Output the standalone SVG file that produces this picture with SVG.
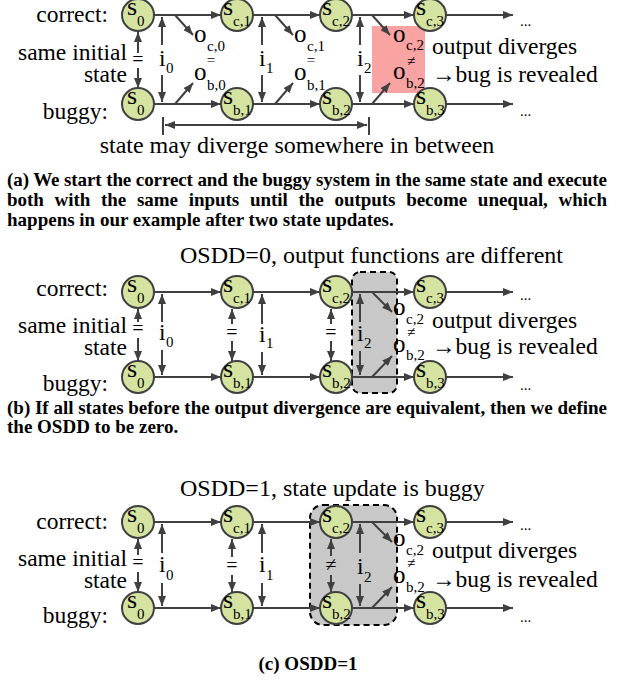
<svg xmlns="http://www.w3.org/2000/svg" width="630" height="681" viewBox="0 0 630 681">
  <defs>
    <marker id="ah" viewBox="0 0 10 8" refX="10" refY="4" markerWidth="10" markerHeight="8" markerUnits="userSpaceOnUse" orient="auto-start-reverse">
      <path d="M0,0 L10,4 L0,8 z" fill="#404040"/>
    </marker>
  </defs>
  <style>
    text { font-family: "Liberation Serif", "Times New Roman", serif; fill: #000; }
    .ln { stroke: #404040; stroke-width: 2; fill: none; }
    .ar { marker-end: url(#ah); }
    .node circle { fill: #d5e3a1; stroke: #404040; stroke-width: 2; }
    .lbl { font-size: 23.5px; }
    .ttl { font-size: 24px; }
    .s { font-size: 26px; }
    .sub { font-size: 15px; }
    .o { font-size: 25px; }
    .rel { font-size: 15px; text-anchor: middle; }
    .eq { font-size: 20px; text-anchor: middle; }
    .dots { font-size: 15px; }
    .end { text-anchor: end; }
    .cap { font-size: 19px; font-weight: bold; }
    .box { fill: #c8c8c8; stroke: #000; stroke-width: 2; stroke-dasharray: 6 4; }
  </style>

  <!-- ===== Panel (a) ===== -->
  <rect id="a-diverge-mark" x="372" y="26" width="53" height="67" fill="#f9a3a3"/>

  <g id="a-connectors">
    <!-- state transitions -->
    <line class="ln ar" x1="154" y1="15" x2="221" y2="15"/>
    <line class="ln ar" x1="253" y1="15" x2="320" y2="15"/>
    <line class="ln ar" x1="352" y1="15" x2="414" y2="15"/>
    <line class="ln ar" x1="446" y1="15" x2="513" y2="15"/>
    <line class="ln ar" x1="154" y1="104" x2="221" y2="104"/>
    <line class="ln ar" x1="253" y1="104" x2="320" y2="104"/>
    <line class="ln ar" x1="352" y1="104" x2="414" y2="104"/>
    <line class="ln ar" x1="446" y1="104" x2="513" y2="104"/>
    <!-- same initial state -->
    <line class="ln ar" x1="138" y1="53" x2="138" y2="32"/>
    <line class="ln ar" x1="138" y1="68" x2="138" y2="88"/>
    <!-- inputs -->
    <line class="ln ar" x1="162" y1="45" x2="162" y2="17"/>
    <line class="ln ar" x1="162" y1="75" x2="162" y2="102"/>
    <line class="ln ar" x1="262" y1="45" x2="262" y2="17"/>
    <line class="ln ar" x1="262" y1="75" x2="262" y2="102"/>
    <line class="ln ar" x1="360" y1="45" x2="360" y2="17"/>
    <line class="ln ar" x1="360" y1="75" x2="360" y2="102"/>
    <!-- outputs -->
    <line class="ln ar" x1="175" y1="15" x2="193" y2="35"/>
    <line class="ln ar" x1="175" y1="104" x2="193" y2="83"/>
    <line class="ln ar" x1="275" y1="15" x2="293" y2="35"/>
    <line class="ln ar" x1="275" y1="104" x2="293" y2="83"/>
    <line class="ln ar" x1="372" y1="15" x2="390" y2="35"/>
    <line class="ln ar" x1="372" y1="104" x2="390" y2="83"/>
    <!-- divergence span -->
    <line class="ln" x1="165" y1="125" x2="367" y2="125" marker-start="url(#ah)" marker-end="url(#ah)"/>
    <line class="ln" x1="163" y1="117" x2="163" y2="135"/>
    <line class="ln" x1="369" y1="117" x2="369" y2="135"/>
  </g>

  <g id="a-nodes">
    <g id="a-s0-correct" class="node" transform="translate(138,15)"><circle r="16"/><text class="s" x="-11" y="0">s</text><text class="sub" x="-1" y="11">0</text></g>
    <g id="a-sc1" class="node" transform="translate(237,15)"><circle r="16"/><text class="s" x="-14" y="0">s</text><text class="sub" x="-4" y="11">c,1</text></g>
    <g id="a-sc2" class="node" transform="translate(336,15)"><circle r="16"/><text class="s" x="-14" y="0">s</text><text class="sub" x="-4" y="11">c,2</text></g>
    <g id="a-sc3" class="node" transform="translate(430,15)"><circle r="16"/><text class="s" x="-14" y="0">s</text><text class="sub" x="-4" y="11">c,3</text></g>
    <g id="a-s0-buggy" class="node" transform="translate(138,104)"><circle r="16"/><text class="s" x="-11" y="0">s</text><text class="sub" x="-1" y="11">0</text></g>
    <g id="a-sb1" class="node" transform="translate(237,104)"><circle r="16"/><text class="s" x="-14" y="0">s</text><text class="sub" x="-4" y="11">b,1</text></g>
    <g id="a-sb2" class="node" transform="translate(336,104)"><circle r="16"/><text class="s" x="-14" y="0">s</text><text class="sub" x="-4" y="11">b,2</text></g>
    <g id="a-sb3" class="node" transform="translate(430,104)"><circle r="16"/><text class="s" x="-14" y="0">s</text><text class="sub" x="-4" y="11">b,3</text></g>
  </g>

  <g id="a-labels">
    <text class="lbl end" x="108" y="22">correct:</text>
    <text class="lbl end" x="127" y="60">same initial</text>
    <text class="lbl end" x="127" y="82">state</text>
    <text class="lbl end" x="108" y="119">buggy:</text>
    <text class="eq" x="138" y="66">=</text>
    <text class="lbl" x="159" y="66">i</text><text class="sub" x="166" y="73">0</text>
    <text class="lbl" x="259" y="66">i</text><text class="sub" x="266" y="73">1</text>
    <text class="lbl" x="357" y="66">i</text><text class="sub" x="364" y="73">2</text>
    <text class="o" x="194" y="42">o</text><text class="sub" x="207" y="51">c,0</text>
    <text class="rel" x="211" y="65">=</text>
    <text class="o" x="194" y="80">o</text><text class="sub" x="207" y="90">b,0</text>
    <text class="o" x="294" y="42">o</text><text class="sub" x="307" y="51">c,1</text>
    <text class="rel" x="311" y="65">=</text>
    <text class="o" x="294" y="80">o</text><text class="sub" x="307" y="90">b,1</text>
    <text class="o" x="393" y="42">o</text><text class="sub" x="406" y="50">c,2</text>
    <text class="rel" x="411" y="66">≠</text>
    <text class="o" x="393" y="79">o</text><text class="sub" x="406" y="88">b,2</text>
    <text class="lbl" x="432" y="54">output diverges</text>
    <text class="lbl" x="432" y="82">→bug is revealed</text>
    <text class="dots" x="520" y="26">...</text>
    <text class="dots" x="520" y="116">...</text>
    <text class="ttl" x="297" y="153" text-anchor="middle">state may diverge somewhere in between</text>
  </g>

  <g id="a-caption" class="cap">
    <text x="7" y="186" textLength="600" lengthAdjust="spacing">(a) We start the correct and the buggy system in the same state and execute</text>
    <text x="7" y="206" textLength="600" lengthAdjust="spacing" word-spacing="6">both with the same inputs until the outputs become unequal, which</text>
    <text x="7" y="226">happens in our example after two state updates.</text>
  </g>

  <!-- ===== Panel (b) ===== -->
  <text class="ttl" x="180" y="263">OSDD=0, output functions are different</text>
  <rect id="b-focus" class="box" x="352" y="272" width="45" height="121" rx="8"/>

  <g id="b-connectors">
    <line class="ln ar" x1="154" y1="292" x2="221" y2="292"/>
    <line class="ln ar" x1="253" y1="292" x2="320" y2="292"/>
    <line class="ln ar" x1="352" y1="292" x2="414" y2="292"/>
    <line class="ln ar" x1="446" y1="292" x2="513" y2="292"/>
    <line class="ln ar" x1="154" y1="377" x2="221" y2="377"/>
    <line class="ln ar" x1="253" y1="377" x2="320" y2="377"/>
    <line class="ln ar" x1="352" y1="377" x2="414" y2="377"/>
    <line class="ln ar" x1="446" y1="377" x2="513" y2="377"/>
    <line class="ln ar" x1="138" y1="322" x2="138" y2="309"/>
    <line class="ln ar" x1="138" y1="338" x2="138" y2="361"/>
    <line class="ln ar" x1="162" y1="322" x2="162" y2="294"/>
    <line class="ln ar" x1="162" y1="350" x2="162" y2="375"/>
    <line class="ln ar" x1="232" y1="324" x2="232" y2="309"/>
    <line class="ln ar" x1="232" y1="341" x2="232" y2="361"/>
    <line class="ln ar" x1="262" y1="324" x2="262" y2="294"/>
    <line class="ln ar" x1="262" y1="352" x2="262" y2="375"/>
    <line class="ln ar" x1="331" y1="324" x2="331" y2="309"/>
    <line class="ln ar" x1="331" y1="341" x2="331" y2="361"/>
    <line class="ln ar" x1="360" y1="322" x2="360" y2="294"/>
    <line class="ln ar" x1="360" y1="351" x2="360" y2="375"/>
    <line class="ln ar" x1="372" y1="292" x2="392" y2="312"/>
    <line class="ln ar" x1="372" y1="377" x2="392" y2="356"/>
  </g>

  <g id="b-nodes">
    <g id="b-s0-correct" class="node" transform="translate(138,292)"><circle r="16"/><text class="s" x="-11" y="0">s</text><text class="sub" x="-1" y="11">0</text></g>
    <g id="b-sc1" class="node" transform="translate(237,292)"><circle r="16"/><text class="s" x="-14" y="0">s</text><text class="sub" x="-4" y="11">c,1</text></g>
    <g id="b-sc2" class="node" transform="translate(336,292)"><circle r="16"/><text class="s" x="-14" y="0">s</text><text class="sub" x="-4" y="11">c,2</text></g>
    <g id="b-sc3" class="node" transform="translate(430,292)"><circle r="16"/><text class="s" x="-14" y="0">s</text><text class="sub" x="-4" y="11">c,3</text></g>
    <g id="b-s0-buggy" class="node" transform="translate(138,377)"><circle r="16"/><text class="s" x="-11" y="0">s</text><text class="sub" x="-1" y="11">0</text></g>
    <g id="b-sb1" class="node" transform="translate(237,377)"><circle r="16"/><text class="s" x="-14" y="0">s</text><text class="sub" x="-4" y="11">b,1</text></g>
    <g id="b-sb2" class="node" transform="translate(336,377)"><circle r="16"/><text class="s" x="-14" y="0">s</text><text class="sub" x="-4" y="11">b,2</text></g>
    <g id="b-sb3" class="node" transform="translate(430,377)"><circle r="16"/><text class="s" x="-14" y="0">s</text><text class="sub" x="-4" y="11">b,3</text></g>
  </g>

  <g id="b-labels">
    <text class="lbl end" x="108" y="296">correct:</text>
    <text class="lbl end" x="127" y="333">same initial</text>
    <text class="lbl end" x="127" y="355">state</text>
    <text class="lbl end" x="108" y="391">buggy:</text>
    <text class="eq" x="138" y="335">=</text>
    <text class="eq" x="232" y="339">=</text>
    <text class="eq" x="331" y="339">=</text>
    <text class="lbl" x="159" y="340">i</text><text class="sub" x="166" y="347">0</text>
    <text class="lbl" x="259" y="342">i</text><text class="sub" x="266" y="348">1</text>
    <text class="lbl" x="357" y="341">i</text><text class="sub" x="364" y="348">2</text>
    <text class="o" x="393" y="315">o</text><text class="sub" x="406" y="324">c,2</text>
    <text class="rel" x="411" y="337">≠</text>
    <text class="o" x="393" y="352">o</text><text class="sub" x="406" y="360">b,2</text>
    <text class="lbl" x="432" y="328">output diverges</text>
    <text class="lbl" x="432" y="354">→bug is revealed</text>
    <text class="dots" x="520" y="300">...</text>
    <text class="dots" x="520" y="390">...</text>
  </g>

  <g id="b-caption" class="cap">
    <text x="7" y="414" textLength="600" lengthAdjust="spacing">(b) If all states before the output divergence are equivalent, then we define</text>
    <text x="7" y="433">the OSDD to be zero.</text>
  </g>

  <!-- ===== Panel (c) ===== -->
  <text class="ttl" x="180" y="496">OSDD=1, state update is buggy</text>
  <rect id="c-focus" class="box" x="310" y="505" width="87" height="120" rx="13"/>

  <g id="c-connectors">
    <line class="ln ar" x1="154" y1="522" x2="221" y2="522"/>
    <line class="ln ar" x1="253" y1="522" x2="320" y2="522"/>
    <line class="ln ar" x1="352" y1="522" x2="414" y2="522"/>
    <line class="ln ar" x1="446" y1="522" x2="513" y2="522"/>
    <line class="ln ar" x1="154" y1="608" x2="221" y2="608"/>
    <line class="ln ar" x1="253" y1="608" x2="320" y2="608"/>
    <line class="ln ar" x1="352" y1="608" x2="414" y2="608"/>
    <line class="ln ar" x1="446" y1="608" x2="513" y2="608"/>
    <line class="ln ar" x1="138" y1="555" x2="138" y2="539"/>
    <line class="ln ar" x1="138" y1="572" x2="138" y2="592"/>
    <line class="ln ar" x1="162" y1="553" x2="162" y2="524"/>
    <line class="ln ar" x1="162" y1="583" x2="162" y2="606"/>
    <line class="ln ar" x1="232" y1="557" x2="232" y2="539"/>
    <line class="ln ar" x1="232" y1="575" x2="232" y2="592"/>
    <line class="ln ar" x1="262" y1="553" x2="262" y2="524"/>
    <line class="ln ar" x1="262" y1="583" x2="262" y2="606"/>
    <line class="ln ar" x1="331" y1="556" x2="331" y2="539"/>
    <line class="ln ar" x1="331" y1="575" x2="331" y2="592"/>
    <line class="ln ar" x1="360" y1="553" x2="360" y2="524"/>
    <line class="ln ar" x1="360" y1="584" x2="360" y2="606"/>
    <line class="ln ar" x1="372" y1="522" x2="392" y2="542"/>
    <line class="ln ar" x1="372" y1="608" x2="392" y2="587"/>
  </g>

  <g id="c-nodes">
    <g id="c-s0-correct" class="node" transform="translate(138,522)"><circle r="16"/><text class="s" x="-11" y="0">s</text><text class="sub" x="-1" y="11">0</text></g>
    <g id="c-sc1" class="node" transform="translate(237,522)"><circle r="16"/><text class="s" x="-14" y="0">s</text><text class="sub" x="-4" y="11">c,1</text></g>
    <g id="c-sc2" class="node" transform="translate(336,522)"><circle r="16"/><text class="s" x="-14" y="0">s</text><text class="sub" x="-4" y="11">c,2</text></g>
    <g id="c-sc3" class="node" transform="translate(430,522)"><circle r="16"/><text class="s" x="-14" y="0">s</text><text class="sub" x="-4" y="11">c,3</text></g>
    <g id="c-s0-buggy" class="node" transform="translate(138,608)"><circle r="16"/><text class="s" x="-11" y="0">s</text><text class="sub" x="-1" y="11">0</text></g>
    <g id="c-sb1" class="node" transform="translate(237,608)"><circle r="16"/><text class="s" x="-14" y="0">s</text><text class="sub" x="-4" y="11">b,1</text></g>
    <g id="c-sb2" class="node" transform="translate(336,608)"><circle r="16"/><text class="s" x="-14" y="0">s</text><text class="sub" x="-4" y="11">b,2</text></g>
    <g id="c-sb3" class="node" transform="translate(430,608)"><circle r="16"/><text class="s" x="-14" y="0">s</text><text class="sub" x="-4" y="11">b,3</text></g>
  </g>

  <g id="c-labels">
    <text class="lbl end" x="108" y="529">correct:</text>
    <text class="lbl end" x="127" y="566">same initial</text>
    <text class="lbl end" x="127" y="588">state</text>
    <text class="lbl end" x="108" y="623">buggy:</text>
    <text class="eq" x="138" y="569">=</text>
    <text class="eq" x="232" y="572">=</text>
    <text class="eq" x="331" y="571">≠</text>
    <text class="lbl" x="159" y="572">i</text><text class="sub" x="166" y="580">0</text>
    <text class="lbl" x="259" y="572">i</text><text class="sub" x="266" y="580">1</text>
    <text class="lbl" x="357" y="574">i</text><text class="sub" x="364" y="582">2</text>
    <text class="o" x="393" y="546">o</text><text class="sub" x="406" y="555">c,2</text>
    <text class="rel" x="411" y="568">≠</text>
    <text class="o" x="393" y="583">o</text><text class="sub" x="406" y="592">b,2</text>
    <text class="lbl" x="432" y="558">output diverges</text>
    <text class="lbl" x="432" y="587">→bug is revealed</text>
    <text class="dots" x="520" y="530">...</text>
    <text class="dots" x="520" y="622">...</text>
  </g>

  <g id="c-caption" class="cap">
    <text x="308" y="670" text-anchor="middle">(c) OSDD=1</text>
  </g>
</svg>
